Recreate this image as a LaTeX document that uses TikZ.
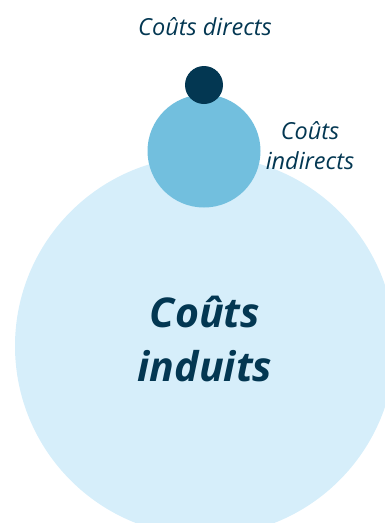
\documentclass[tikz,border=0pt]{standalone}
\usepackage{fontspec}
\setmainfont{Open Sans}
\usetikzlibrary{positioning}
\definecolor{navy}{HTML}{033752}
\definecolor{midblue}{HTML}{72BFDE}
\definecolor{paleblue}{HTML}{D6EEFA}

\begin{document}
\begin{tikzpicture}[
    x=1pt, y=-1pt,
    disc/.style={circle, inner sep=0pt, draw=none},
    caption/.style={font=\fontsize{23.5}{30}\selectfont\itshape, text=navy, align=center},
    big/.style={font=\fontsize{41}{54}\selectfont\bfseries\itshape, text=navy, align=center}
]
\useasboundingbox (0,0) rectangle (385,523);
\clip (0,0) rectangle (385,523);

% Circles, largest first
\node[disc, fill=paleblue, minimum size=380pt] (induits) at (205,346) {};
\node[disc, fill=midblue, minimum size=113pt] (indirects) at (204,151) {};
\node[disc, fill=navy, minimum size=38pt] (directs) at (204,85) {};

% Labels
\node[caption] (lbldirects) at (205,27) {Coûts directs};
\node[caption] (lblindirects) at (310,146) {Coûts\\indirects};
\node[big] (lblinduits) at (205,339) {Coûts\\induits};
\end{tikzpicture}
\end{document}
